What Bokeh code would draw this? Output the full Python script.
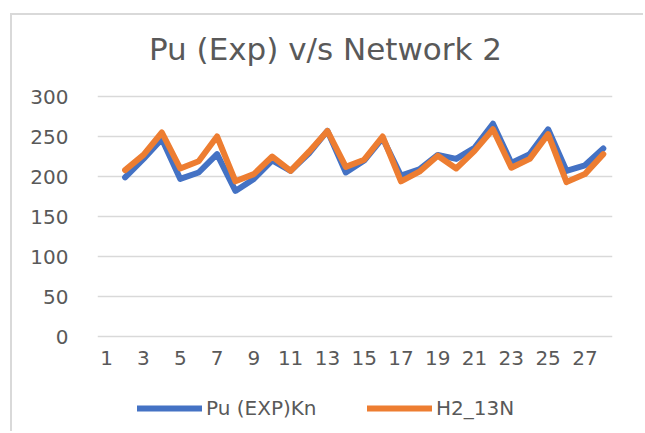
from bokeh.plotting import figure
from bokeh.models import Label, Legend, LegendItem, FixedTicker, Range1d, ColumnDataSource
from bokeh.embed import file_html
from bokeh.resources import INLINE

categories = list(range(2, 29))
pu_exp = [199, 222, 247, 197, 205, 228, 182, 197, 220, 207, 229, 257, 205, 220,
          248, 201, 209, 227, 222, 236, 266, 217, 228, 259, 207, 214, 235]
h2_13n = [208, 227, 255, 210, 219, 250, 194, 203, 225, 207, 231, 257, 212, 221,
          250, 194, 206, 226, 210, 232, 259, 211, 222, 253, 193, 203, 228]
x_ticks = list(range(1, 28, 2))
y_ticks = [0, 50, 100, 150, 200, 250, 300]

FONT = "DejaVu Sans"
GRAY = "#595959"
BLUE = "#4472c4"
ORANGE = "#ed7d31"

p = figure(width=633, height=418, output_backend="svg", toolbar_location=None,
           x_range=Range1d(0.5, 28.5), y_range=Range1d(-121.25, 401.25),
           min_border_left=85, min_border_right=33, min_border_top=0, min_border_bottom=0)
p.outline_line_color = None
p.background_fill_color = "white"
p.border_fill_color = "white"
p.styles = {"margin-left": "10px", "margin-top": "13px",
            "border-left": "2px solid #d9d9d9", "border-top": "2px solid #d9d9d9"}

src = ColumnDataSource(dict(x=categories, a=pu_exp, b=h2_13n))
r1 = p.line("x", "a", source=src, line_color=BLUE, line_width=6, line_join="round", line_cap="round")
r2 = p.line("x", "b", source=src, line_color=ORANGE, line_width=6, line_join="round", line_cap="round")

p.xgrid.grid_line_color = None
p.ygrid.grid_line_color = "#d9d9d9"
p.ygrid.grid_line_width = 1.5
p.yaxis.ticker = FixedTicker(ticks=y_ticks)
p.xaxis.ticker = FixedTicker(ticks=x_ticks)
p.xaxis.fixed_location = 0
for ax in (p.xaxis, p.yaxis):
    ax.major_tick_line_color = None
    ax.minor_tick_line_color = None
    ax.axis_line_color = None
    ax.major_label_text_font = FONT
    ax.major_label_text_font_size = "20px"
    ax.major_label_text_color = GRAY
p.yaxis.major_label_standoff = 23
p.xaxis.major_label_standoff = 8

title = Label(x=228, y=360, x_units="screen", y_units="data",
              text="Pu (Exp) v/s Network 2", text_font=FONT, text_font_size="31px",
              text_color=GRAY, text_align="center", text_baseline="middle")
p.add_layout(title)

for r, name, lx in [(r1, "Pu (EXP)Kn", 40), (r2, "H2_13N", 270)]:
    lg = Legend(items=[LegendItem(label=name, renderers=[r])],
                location=(lx, 13), orientation="horizontal",
                label_text_font=FONT, label_text_font_size="20px", label_text_color=GRAY,
                glyph_width=65, glyph_height=20, label_height=20, label_standoff=4,
                border_line_color=None, background_fill_alpha=0, margin=0, padding=0)
    p.add_layout(lg, "center")

open("out.html", "w").write(file_html(p, INLINE))
